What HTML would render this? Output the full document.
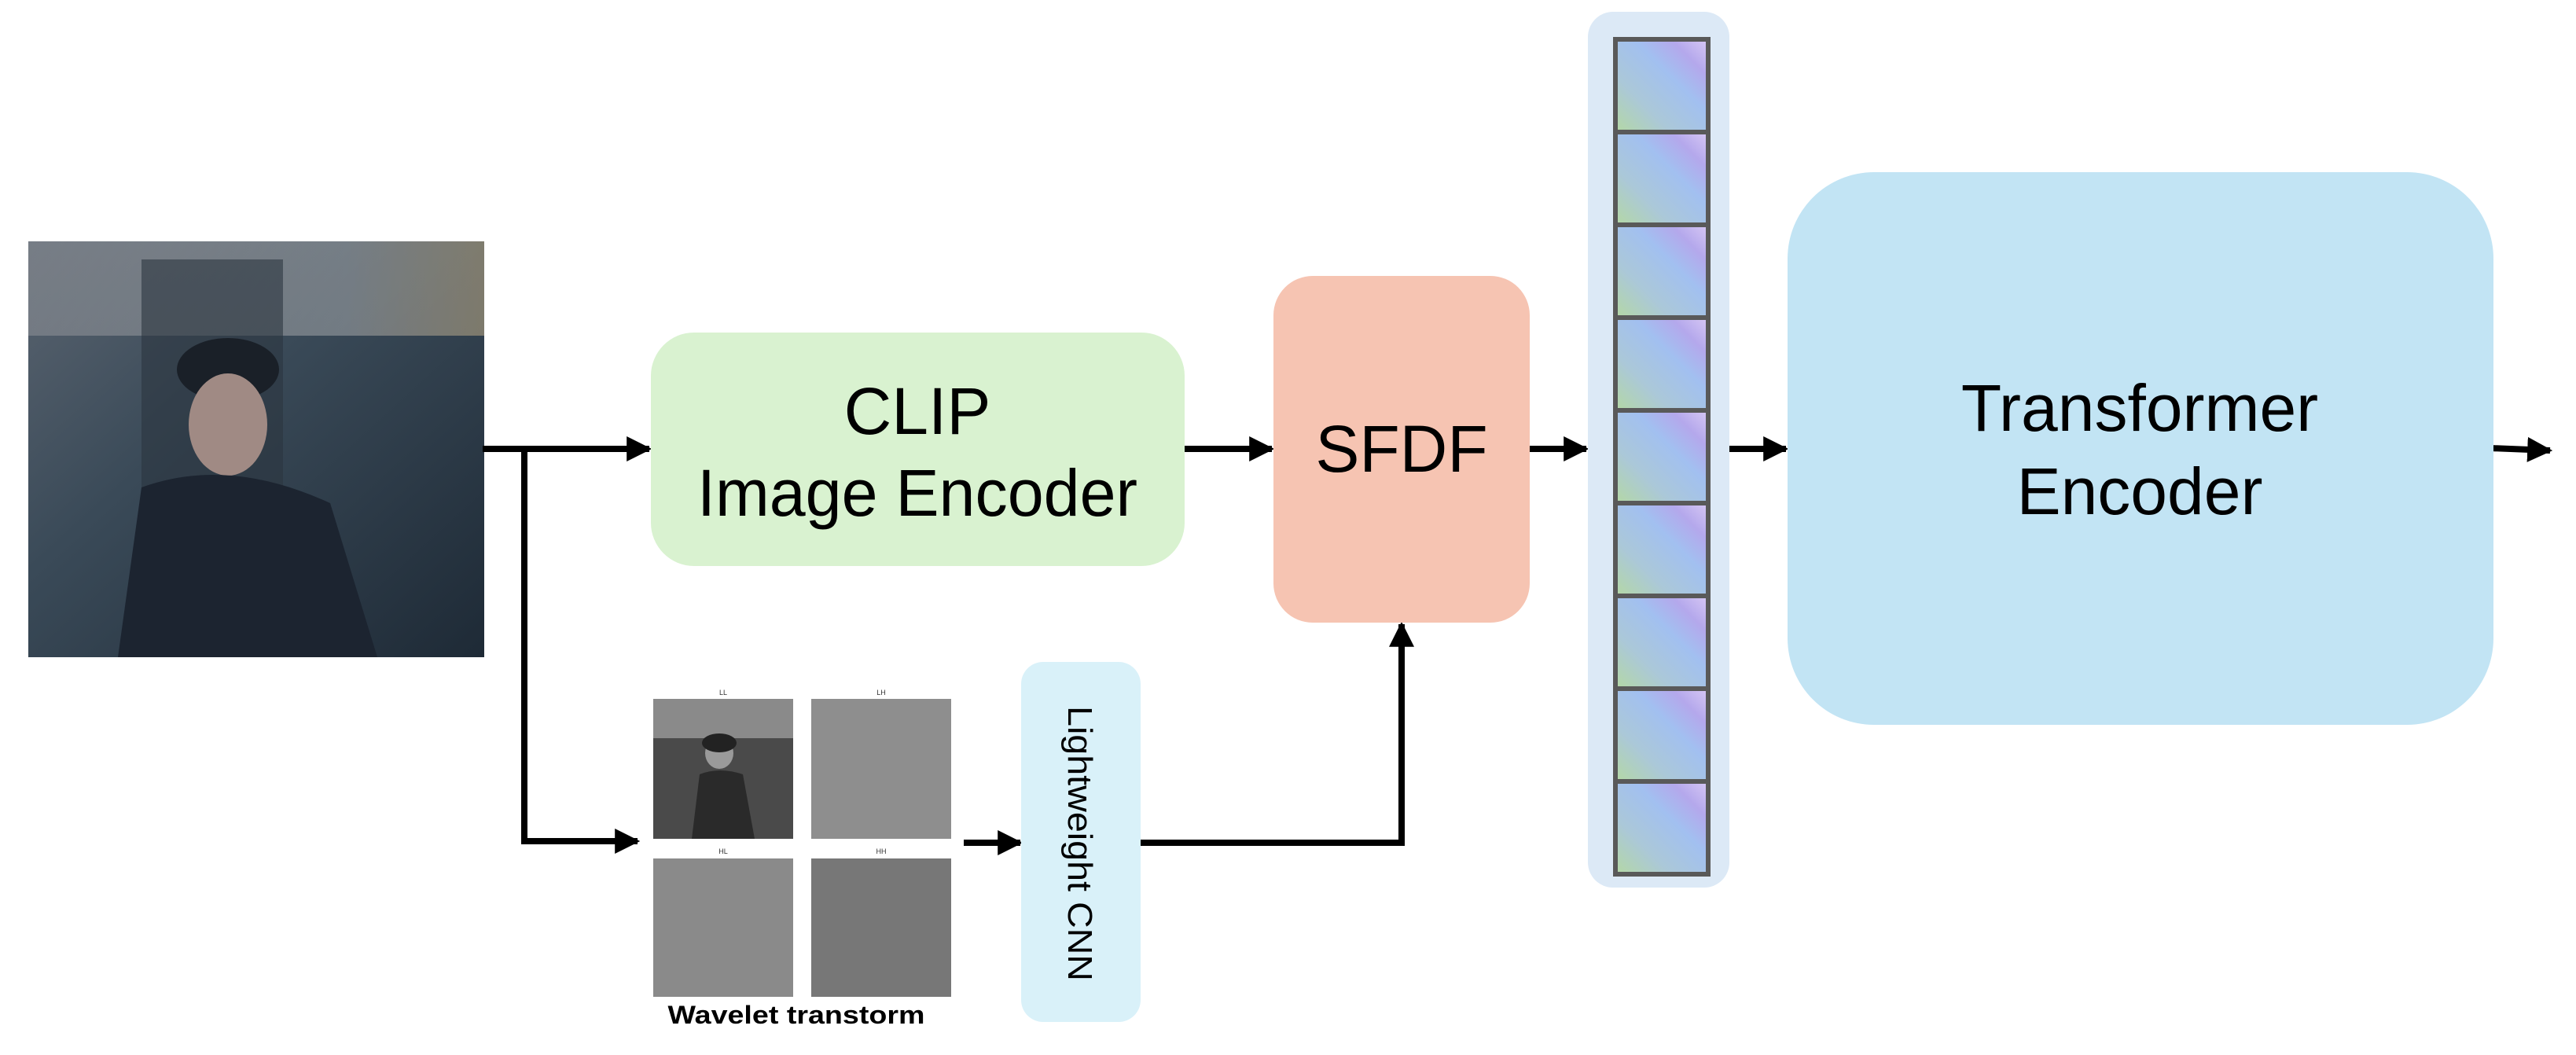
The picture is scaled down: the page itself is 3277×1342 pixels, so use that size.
<!DOCTYPE html>
<html><head><meta charset="utf-8"><style>html,body{margin:0;padding:0;background:#fff;overflow:hidden}svg{display:block}</style></head>
<body>
<svg width="3277" height="1342" viewBox="0 0 3277 1342" xmlns="http://www.w3.org/2000/svg" font-family="Liberation Sans, DejaVu Sans, sans-serif">
<defs>
<linearGradient id="tok" x1="0" y1="1" x2="1" y2="0">
<stop offset="0" stop-color="#b4d8a4"/><stop offset="0.3" stop-color="#abc8d8"/><stop offset="0.6" stop-color="#a2c0f0"/><stop offset="0.8" stop-color="#b4a8ec"/><stop offset="1" stop-color="#d8c8f4"/></linearGradient>
<linearGradient id="photo" x1="0" y1="0" x2="1" y2="1">
<stop offset="0" stop-color="#5a6470"/><stop offset="0.4" stop-color="#3a4a58"/><stop offset="1" stop-color="#1e2a36"/></linearGradient>
<linearGradient id="sky" x1="0" y1="0" x2="1" y2="0"><stop offset="0" stop-color="#8a8e94"/><stop offset="0.7" stop-color="#9a9ea2"/><stop offset="1" stop-color="#b0a080"/></linearGradient>
<marker id="ah" viewBox="0 0 10 10" refX="9" refY="5" markerWidth="4" markerHeight="4" orient="auto" markerUnits="strokeWidth"><path d="M0,0L10,5L0,10z" fill="#000"/></marker>
</defs>
<!-- photo -->
<rect x="36" y="307" width="580" height="529" fill="url(#photo)"/>
<rect x="36" y="307" width="580" height="120" fill="url(#sky)" opacity="0.6"/>
<rect x="180" y="330" width="180" height="320" fill="#2c3640" opacity="0.6"/>
<ellipse cx="290" cy="470" rx="65" ry="40" fill="#1a2028"/>
<ellipse cx="290" cy="540" rx="50" ry="65" fill="#a08a84"/>
<path d="M180 620 Q290 580 420 640 L480 836 L150 836 Z" fill="#1c2430"/>
<!-- connectors -->
<g stroke="#000" stroke-width="8" fill="none">
<line x1="614" y1="571" x2="826" y2="571" marker-end="url(#ah)"/>
<polyline points="667,571 667,1070 811,1070" marker-end="url(#ah)"/>
<line x1="1507" y1="571" x2="1618" y2="571" marker-end="url(#ah)"/>
<line x1="1946" y1="571" x2="2018" y2="571" marker-end="url(#ah)"/>
<line x1="2200" y1="571" x2="2272" y2="571" marker-end="url(#ah)"/>
<line x1="3168" y1="570" x2="3244" y2="573" marker-end="url(#ah)"/>
<line x1="1226" y1="1072" x2="1298" y2="1072" marker-end="url(#ah)"/>
<polyline points="1448,1072 1783,1072 1783,794" marker-end="url(#ah)"/>
</g>
<!-- CLIP -->
<rect x="828" y="423" width="679" height="297" rx="55" fill="#d9f2d0"/>
<text x="1167" y="552" font-size="84" text-anchor="middle" fill="#000">CLIP</text>
<text x="1167" y="656" font-size="84" text-anchor="middle" textLength="560" lengthAdjust="spacingAndGlyphs" fill="#000">Image Encoder</text>
<!-- SFDF -->
<rect x="1620" y="351" width="326" height="441" rx="50" fill="#f6c4b2"/>
<text x="1783" y="600" font-size="84" text-anchor="middle" fill="#000">SFDF</text>
<!-- tokens -->
<rect x="2020" y="15" width="180" height="1114" rx="32" fill="#dce9f6"/>
<g stroke="#595959" stroke-width="6">
<rect x="2055" y="50" width="118" height="118" fill="url(#tok)"/>
<rect x="2055" y="168" width="118" height="118" fill="url(#tok)"/>
<rect x="2055" y="286" width="118" height="118" fill="url(#tok)"/>
<rect x="2055" y="404" width="118" height="118" fill="url(#tok)"/>
<rect x="2055" y="522" width="118" height="118" fill="url(#tok)"/>
<rect x="2055" y="640" width="118" height="118" fill="url(#tok)"/>
<rect x="2055" y="758" width="118" height="118" fill="url(#tok)"/>
<rect x="2055" y="876" width="118" height="118" fill="url(#tok)"/>
<rect x="2055" y="994" width="118" height="118" fill="url(#tok)"/>
</g>
<!-- Transformer -->
<rect x="2274" y="219" width="898" height="703" rx="110" fill="#c2e4f4"/>
<text x="2722" y="548" font-size="84" text-anchor="middle" fill="#000">Transformer</text>
<text x="2722" y="654" font-size="84" text-anchor="middle" fill="#000">Encoder</text>
<!-- wavelet -->
<text x="920" y="884" font-size="9" text-anchor="middle" fill="#333">LL</text>
<text x="1121" y="884" font-size="9" text-anchor="middle" fill="#333">LH</text>
<text x="920" y="1086" font-size="9" text-anchor="middle" fill="#333">HL</text>
<text x="1121" y="1086" font-size="9" text-anchor="middle" fill="#333">HH</text>
<rect x="831" y="889" width="178" height="178" fill="#4a4a4a"/>
<rect x="831" y="889" width="178" height="50" fill="#8a8a8a"/>
<ellipse cx="915" cy="958" rx="18" ry="20" fill="#9a9a9a"/>
<ellipse cx="915" cy="945" rx="22" ry="12" fill="#222"/>
<path d="M880 1067 L890 985 Q915 975 945 985 L960 1067Z" fill="#2a2a2a"/>
<rect x="1032" y="889" width="178" height="178" fill="#8e8e8e"/>
<rect x="831" y="1092" width="178" height="176" fill="#8a8a8a"/>
<rect x="1032" y="1092" width="178" height="176" fill="#777"/>
<text x="1013" y="1302" font-size="32" font-weight="bold" text-anchor="middle" textLength="327" lengthAdjust="spacingAndGlyphs" fill="#000">Wavelet transtorm</text>
<!-- Lightweight CNN -->
<rect x="1299" y="842" width="152" height="458" rx="28" fill="#d9f1f9"/>
<text transform="translate(1359,1073) rotate(90)" font-size="44" text-anchor="middle" textLength="350" lengthAdjust="spacingAndGlyphs" fill="#000">Lightweight CNN</text>
</svg>
</body></html>
